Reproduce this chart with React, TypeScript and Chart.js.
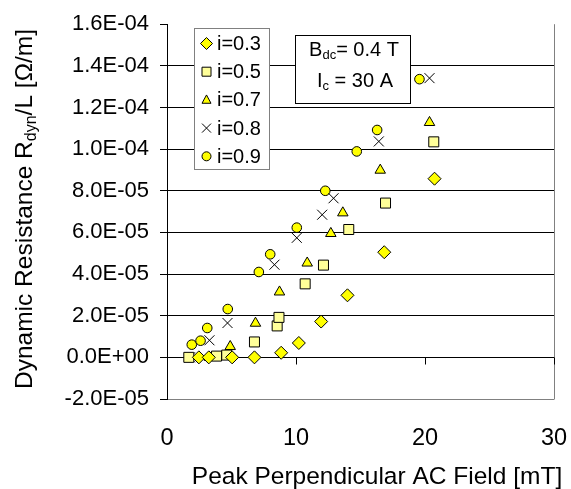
import { useEffect, useRef } from 'react';
import { Chart, registerables } from 'chart.js';

Chart.register(...registerables);

const FONT = '"Liberation Sans", Arial, sans-serif';

const SERIES_NAMES = ['i=0.3', 'i=0.5', 'i=0.7', 'i=0.8', 'i=0.9'];

const X_03 = [2.47, 3.24, 5.05, 6.78, 8.85, 10.22, 11.95, 13.99, 16.84, 20.74];
const Y_03 = [0, 0, 0, 0, 2.2e-6, 6.9e-6, 1.72e-5, 2.98e-5, 5.05e-5, 8.58e-5];

const X_05 = [1.69, 3.84, 4.63, 6.78, 8.54, 8.68, 10.71, 12.13, 14.09, 16.94, 20.68];
const Y_05 = [0, 6e-7, 1.1e-6, 7.4e-6, 1.51e-5, 1.92e-5, 3.53e-5, 4.43e-5, 6.14e-5, 7.41e-5, 1.035e-4];

const X_07 = [3.29, 4.9, 6.86, 8.72, 10.87, 12.7, 13.63, 16.53, 20.35];
const Y_07 = [0, 5.2e-6, 1.64e-5, 3.14e-5, 4.53e-5, 5.95e-5, 6.94e-5, 8.99e-5, 1.128e-4];

const X_08 = [1.78, 3.29, 4.69, 8.33, 10.06, 12.03, 12.91, 16.42, 20.35];
const Y_08 = [0, 8.2e-6, 1.65e-5, 4.45e-5, 5.74e-5, 6.85e-5, 7.64e-5, 1.037e-4, 1.341e-4];

const X_09 = [1.92, 2.6, 3.12, 4.71, 7.12, 8.0, 10.06, 12.27, 14.71, 16.29, 19.57];
const Y_09 = [6.1e-6, 8.0e-6, 1.41e-5, 2.32e-5, 4.1e-5, 4.95e-5, 6.23e-5, 8.0e-5, 9.89e-5, 1.092e-4, 1.336e-4];

const Y_TICKS = [-2e-5, 0, 2e-5, 4e-5, 6e-5, 8e-5, 1e-4, 1.2e-4, 1.4e-4, 1.6e-4];
const Y_TICK_LABELS = ['-2.0E-05', '0.0E+00', '2.0E-05', '4.0E-05', '6.0E-05', '8.0E-05', '1.0E-04', '1.2E-04', '1.4E-04', '1.6E-04'];
const X_TICKS = [0, 10, 20, 30];
const X_TICK_LABELS = ['0', '10', '20', '30'];

const X_TITLE = 'Peak Perpendicular AC Field [mT]';
const Y_TITLE_PARTS = ['Dynamic Resistance R', 'dyn', '/L [Ω/m]'];
const NOTE_LINE1 = ['B', 'dc', '= 0.4 T'];
const NOTE_LINE2 = ['I', 'c', ' = 30 A'];

const STYLES = [
  { shape: 'diamond', fill: '#FFFF00', r: 6.5 },
  { shape: 'square', fill: '#FFFF99', r: 5 },
  { shape: 'triangle', fill: '#FFFF00', r: 5.5 },
  { shape: 'cross', fill: '#000000', r: 5 },
  { shape: 'circle', fill: '#FFFF00', r: 4.8 },
];

const PT_STYLE: Record<string, string> = {
  diamond: 'rectRot',
  square: 'rect',
  triangle: 'triangle',
  cross: 'crossRot',
  circle: 'circle',
};

function chartRadius(shape: string, r: number) {
  if (shape === 'square') return r / Math.SQRT1_2;
  if (shape === 'cross') return r / Math.SQRT1_2;
  if (shape === 'triangle') return r * 1.1;
  return r;
}

function drawMarker(ctx: CanvasRenderingContext2D, shape: string, x: number, y: number, r: number, fill: string) {
  ctx.save();
  ctx.lineWidth = 1;
  ctx.strokeStyle = '#000';
  ctx.fillStyle = fill;
  ctx.beginPath();
  if (shape === 'diamond') {
    ctx.moveTo(x - r, y);
    ctx.lineTo(x, y - r);
    ctx.lineTo(x + r, y);
    ctx.lineTo(x, y + r);
    ctx.closePath();
    ctx.fill();
    ctx.stroke();
  } else if (shape === 'square') {
    ctx.rect(x - r, y - r, 2 * r, 2 * r);
    ctx.fill();
    ctx.stroke();
  } else if (shape === 'triangle') {
    ctx.moveTo(x, y - r * 1.1);
    ctx.lineTo(x + r, y + r * 0.75);
    ctx.lineTo(x - r, y + r * 0.75);
    ctx.closePath();
    ctx.fill();
    ctx.stroke();
  } else if (shape === 'cross') {
    ctx.moveTo(x - r, y - r);
    ctx.lineTo(x + r, y + r);
    ctx.moveTo(x + r, y - r);
    ctx.lineTo(x - r, y + r);
    ctx.stroke();
  } else {
    ctx.arc(x, y, r, 0, Math.PI * 2);
    ctx.fill();
    ctx.stroke();
  }
  ctx.restore();
}

function drawSubText(ctx: CanvasRenderingContext2D, parts: string[], cx: number, baseY: number, size: number, subSize: number, subDrop: number) {
  const big = `${size}px ${FONT}`;
  const small = `${subSize}px ${FONT}`;
  ctx.font = big;
  const w0 = ctx.measureText(parts[0]).width;
  const w2 = ctx.measureText(parts[2]).width;
  ctx.font = small;
  const w1 = ctx.measureText(parts[1]).width;
  let x = cx - (w0 + w1 + w2) / 2;
  ctx.textAlign = 'left';
  ctx.textBaseline = 'alphabetic';
  ctx.fillStyle = '#000';
  ctx.font = big;
  ctx.fillText(parts[0], x, baseY);
  x += w0;
  ctx.font = small;
  ctx.fillText(parts[1], x, baseY + subDrop);
  x += w1;
  ctx.font = big;
  ctx.fillText(parts[2], x, baseY);
}

const overlayPlugin = {
  id: 'overlay',
  afterDraw(chart: any) {
    const { ctx, chartArea, scales } = chart;
    const { top, bottom, right } = chartArea;
    const xs = scales.x;
    const ys = scales.y;
    ctx.save();
    // right border of plot area
    ctx.strokeStyle = '#808080';
    ctx.lineWidth = 1;
    ctx.beginPath();
    ctx.moveTo(Math.round(right) + 0.5, top);
    ctx.lineTo(Math.round(right) + 0.5, bottom + 0.5);
    ctx.stroke();
    // tick marks on the x axis (crossing at y = 0)
    const y0 = Math.round(ys.getPixelForValue(0)) + 0.5;
    ctx.strokeStyle = '#000';
    ctx.beginPath();
    for (const v of X_TICKS) {
      if (v === 0) continue;
      const px = Math.round(xs.getPixelForValue(v)) + 0.5;
      ctx.moveTo(px, y0);
      ctx.lineTo(px, y0 + 7);
    }
    ctx.stroke();

    // legend box
    ctx.fillStyle = '#fff';
    ctx.strokeStyle = '#808080';
    ctx.fillRect(194.5, 28.5, 75, 141);
    ctx.strokeRect(194.5, 28.5, 75, 141);
    SERIES_NAMES.forEach((name, i) => {
      const yy = 43.5 + 28.2 * i;
      const st = STYLES[i];
      const lr = st.shape === 'diamond' ? 6 : 4.5;
      drawMarker(ctx, st.shape, 206.5, yy, lr, st.fill);
      ctx.fillStyle = '#000';
      ctx.font = `20px ${FONT}`;
      ctx.textAlign = 'left';
      ctx.textBaseline = 'middle';
      ctx.fillText(name, 217, yy + 1);
    });

    // annotation box
    ctx.fillStyle = '#fff';
    ctx.strokeStyle = '#000';
    ctx.fillRect(295.5, 35.5, 115, 68);
    ctx.strokeRect(295.5, 35.5, 115, 68);
    drawSubText(ctx, NOTE_LINE1, 354, 56, 20, 13, 3);
    drawSubText(ctx, NOTE_LINE2, 355, 86.5, 20, 13, 3);

    // x axis title
    ctx.fillStyle = '#000';
    ctx.font = `24.5px ${FONT}`;
    ctx.textAlign = 'center';
    ctx.textBaseline = 'alphabetic';
    ctx.fillText(X_TITLE, 377, 484);

    // y axis title (rotated)
    ctx.save();
    ctx.translate(31.5, 209);
    ctx.rotate(-Math.PI / 2);
    drawSubText(ctx, Y_TITLE_PARTS, 0, 0, 24.5, 16, 4);
    ctx.restore();

    ctx.restore();
  },
};

export default function App() {
  const ref = useRef<HTMLCanvasElement>(null);
  useEffect(() => {
    document.body.style.margin = '0';
    const canvas = ref.current;
    if (!canvas) return;
    const sets = [
      [X_03, Y_03],
      [X_05, Y_05],
      [X_07, Y_07],
      [X_08, Y_08],
      [X_09, Y_09],
    ];
    const datasets = sets.map(([xs, ys], i) => {
      const st = STYLES[i];
      return {
        label: SERIES_NAMES[i],
        data: xs.map((x, j) => ({ x, y: ys[j] })),
        showLine: false,
        pointStyle: PT_STYLE[st.shape],
        pointRadius: chartRadius(st.shape, st.r),
        pointHoverRadius: chartRadius(st.shape, st.r),
        pointBackgroundColor: st.fill,
        backgroundColor: st.fill,
        pointBorderColor: '#000',
        borderColor: '#000',
        pointBorderWidth: 1,
        borderWidth: 1,
      };
    });
    const chart = new Chart(canvas, {
      type: 'scatter',
      data: { datasets },
      options: {
        responsive: false,
        animation: false,
        devicePixelRatio: 1,
        layout: { padding: { top: 19, right: 17, bottom: 0, left: 0 } },
        plugins: {
          legend: { display: false },
          tooltip: { enabled: false },
        },
        scales: {
          x: {
            type: 'linear',
            min: 0,
            max: 30,
            afterBuildTicks: (s: any) => {
              s.ticks = X_TICKS.map((v) => ({ value: v }));
            },
            afterFit: (s: any) => {
              s.height = 90;
            },
            ticks: {
              callback: (_v: any, i: number) => X_TICK_LABELS[i],
              font: { family: FONT, size: 23.5 },
              color: '#000',
              padding: 0,
              maxRotation: 0,
              autoSkip: false,
            },
            grid: {
              display: true,
              drawOnChartArea: false,
              drawTicks: true,
              tickLength: 25,
              color: 'rgba(0,0,0,0)',
              tickColor: 'rgba(0,0,0,0)',
            },
            border: { display: false },
          },
          y: {
            type: 'linear',
            min: -2e-5,
            max: 1.6e-4,
            afterBuildTicks: (s: any) => {
              s.ticks = Y_TICKS.map((v) => ({ value: v }));
            },
            afterFit: (s: any) => {
              s.width = 167;
            },
            ticks: {
              callback: (_v: any, i: number) => Y_TICK_LABELS[i],
              font: { family: FONT, size: 22 },
              color: '#000',
              padding: 11,
              autoSkip: false,
            },
            grid: {
              color: (c: any) => (c.index === 0 ? '#808080' : c.index === Y_TICKS.length - 1 ? 'rgba(0,0,0,0)' : '#000'),
              tickColor: '#000',
              tickLength: 7,
              lineWidth: 1,
            },
            border: { display: true, color: '#000', width: 1 },
          },
        },
      },
      plugins: [overlayPlugin],
    } as any);
    return () => chart.destroy();
  }, []);
  return (
    <div style={{ width: 571, height: 489, background: '#fff' }}>
      <canvas ref={ref} width={571} height={489} style={{ display: 'block' }} />
    </div>
  );
}
